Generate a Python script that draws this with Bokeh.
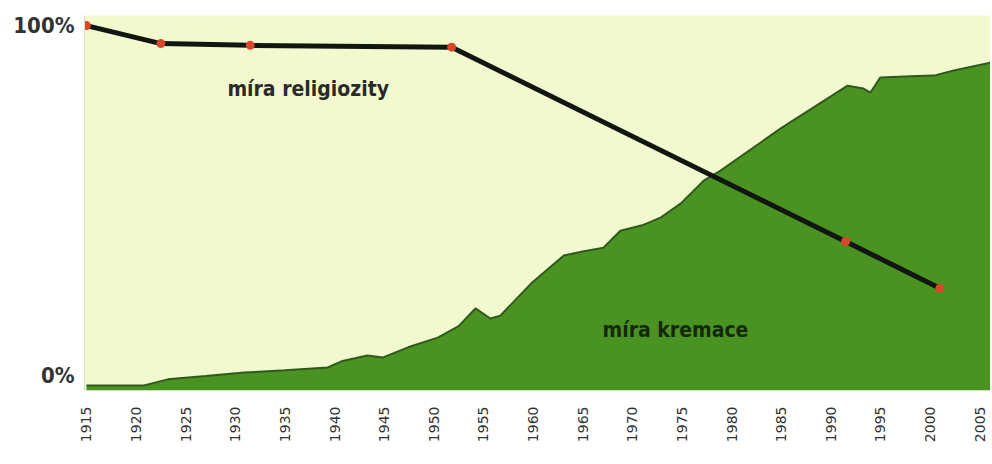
from math import pi
from bokeh.plotting import figure
from bokeh.models import FixedTicker, Range1d
from bokeh.core.properties import value
from bokeh.embed import file_html
from bokeh.resources import INLINE

# --- data ---
rel_years = [1915, 1922.5, 1931.5, 1951.8, 1991.5, 2001]
rel_values = [100, 95, 94.5, 94, 40, 27]

crem_years = [1915, 1920.8, 1923.2, 1927, 1930.9, 1935, 1939.3, 1940.7, 1943.3, 1944.9,
              1947.4, 1950.4, 1952.5, 1954.2, 1955.7, 1956.7, 1959.8, 1963.1, 1965,
              1967.1, 1968.8, 1971, 1972.9, 1974.9, 1977.2, 1978.9, 1985, 1991.7,
              1993.3, 1994, 1995, 1998, 2000.4, 2002.4, 2006.1]
crem_values = [0, 0, 1.7, 2.6, 3.6, 4.2, 5.0, 6.7, 8.3, 7.8,
               10.6, 13.3, 16.5, 21.4, 18.6, 19.4, 28.3, 36.1, 37.2,
               38.3, 43.0, 44.5, 46.7, 50.6, 56.9, 59.7, 71.5, 83.3,
               82.5, 81.4, 85.6, 85.9, 86.1, 87.5, 89.7]

x_ticks = list(range(1915, 2006, 5))
y_ticks = [2.8, 100]
y_labels = {2.8: "0%", 100: "100%"}

label_rel = "míra religiozity"
label_crem = "míra kremace"

# --- figure ---
p = figure(width=990, height=448, output_backend="svg", toolbar_location=None,
           x_range=Range1d(1914.8, 2006.1), y_range=Range1d(-1.4, 102.8),
           min_border_left=84, min_border_right=0, min_border_top=15, min_border_bottom=58,
           background_fill_color="#F3F9CF", border_fill_color="white")
p.outline_line_color = None
p.grid.visible = False

p.varea(x=crem_years, y1=[-1.4] * len(crem_years), y2=crem_values, fill_color="#4A9322")
p.line(crem_years, crem_values, line_color="#2E5A1C", line_width=2)
p.line(rel_years, rel_values, line_color="#111611", line_width=5)
p.scatter(rel_years, rel_values, marker="circle", size=9, fill_color="#D9472B",
          line_color=None)

p.text(x=[1929.2], y=[82.5], text=[label_rel], text_font=value("DejaVu Sans Condensed"),
       text_font_style="bold", text_font_size="21px", text_color="#2a2a2a",
       text_align="left", text_baseline="middle")
p.text(x=[1967.0], y=[15.5], text=[label_crem], text_font=value("DejaVu Sans Condensed"),
       text_font_style="bold", text_font_size="21px", text_color="#16280c",
       text_align="left", text_baseline="middle")

p.xaxis.ticker = FixedTicker(ticks=x_ticks)
p.xaxis.major_label_orientation = pi / 2
p.xaxis.major_label_text_font = "DejaVu Sans"
p.xaxis.major_label_text_font_size = "14px"
p.xaxis.major_label_text_color = "#333333"
p.xaxis.major_label_standoff = 10
p.xaxis.axis_line_color = None
p.xaxis.major_tick_line_color = None
p.xaxis.minor_tick_line_color = None

p.yaxis.ticker = FixedTicker(ticks=y_ticks)
p.yaxis.major_label_overrides = y_labels
p.yaxis.major_label_text_font = "DejaVu Sans Condensed"
p.yaxis.major_label_text_font_style = "bold"
p.yaxis.major_label_text_font_size = "22px"
p.yaxis.major_label_text_color = "#333333"
p.yaxis.major_label_standoff = 4
p.yaxis.axis_line_color = "#dcdcc8"
p.yaxis.major_tick_line_color = None
p.yaxis.minor_tick_line_color = None

open("out.html", "w").write(file_html(p, INLINE))
